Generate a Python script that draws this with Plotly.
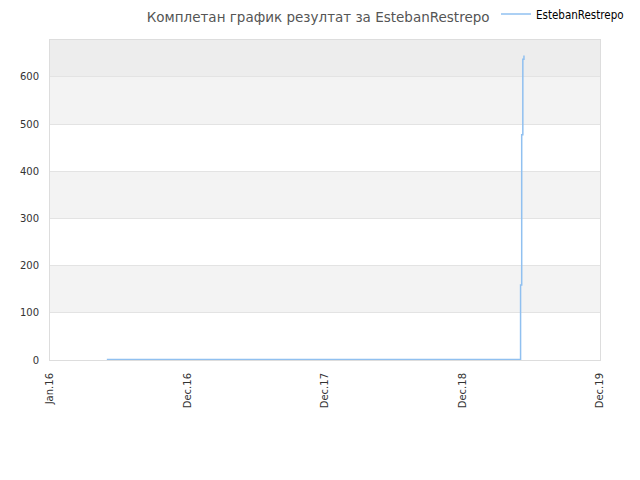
import plotly.graph_objects as go

# step data
dates = ["2016-05-31", "2019-06-04", "2019-06-07", "2019-06-10", "2019-06-13"]
scores = [1, 159, 477, 637, 645]

tick_dates = ["2016-01-01", "2017-01-01", "2018-01-01", "2019-01-01", "2020-01-01"]
tick_labels = ["Jan.16", "Dec.16", "Dec.17", "Dec.18", "Dec.19"]

band_edges = [(100, 200, "#f3f3f3"), (300, 400, "#f3f3f3"), (500, 600, "#f3f3f3"), (600, 678, "#ededed")]

fig = go.Figure()

fig.add_trace(go.Scatter(
    x=dates,
    y=scores,
    mode='lines',
    line=dict(color='#90c0f0', width=1.5, shape='hv'),
    name="EstebanRestrepo"
))

for y0, y1, col in band_edges:
    fig.add_shape(type="rect", xref="paper", yref="y", x0=0, x1=1, y0=y0, y1=y1,
                  fillcolor=col, line_width=0, layer="below")

# page body has an 8px margin, so the figure is a bit smaller than the window
fig.update_layout(
    width=624, height=464,
    margin=dict(l=42, r=32, t=32, b=112, autoexpand=False),
    title=dict(text="Комплетан график резултат за EstebanRestrepo",
               x=0.497, xanchor="center", y=0.981, yanchor="middle",
               font=dict(family="DejaVu Sans", size=13.5, color="#555555")),
    font=dict(family="DejaVu Sans", size=10, color="#333333"),
    showlegend=True,
    legend=dict(xref="container", yref="container", x=0.782, y=0.987,
                xanchor="left", yanchor="middle", bgcolor="rgba(0,0,0,0)",
                font=dict(family="DejaVu Sans Condensed", size=11.5, color="#000000"),
                itemwidth=30),
    plot_bgcolor="white",
    paper_bgcolor="white",
    xaxis=dict(type="date", range=["2016-01-01", "2020-01-01"],
               tickvals=tick_dates, ticktext=tick_labels, tickangle=-90,
               showgrid=False, showline=True, linecolor="#dddddd", mirror=True,
               zeroline=False, ticks="", ticklabelstandoff=8),
    yaxis=dict(range=[0, 678], dtick=100, showgrid=True, gridcolor="#e3e3e3",
               showline=True, linecolor="#dddddd", mirror=True, zeroline=False,
               ticks="", ticklabelstandoff=8),
)

fig.write_html("out.html")
